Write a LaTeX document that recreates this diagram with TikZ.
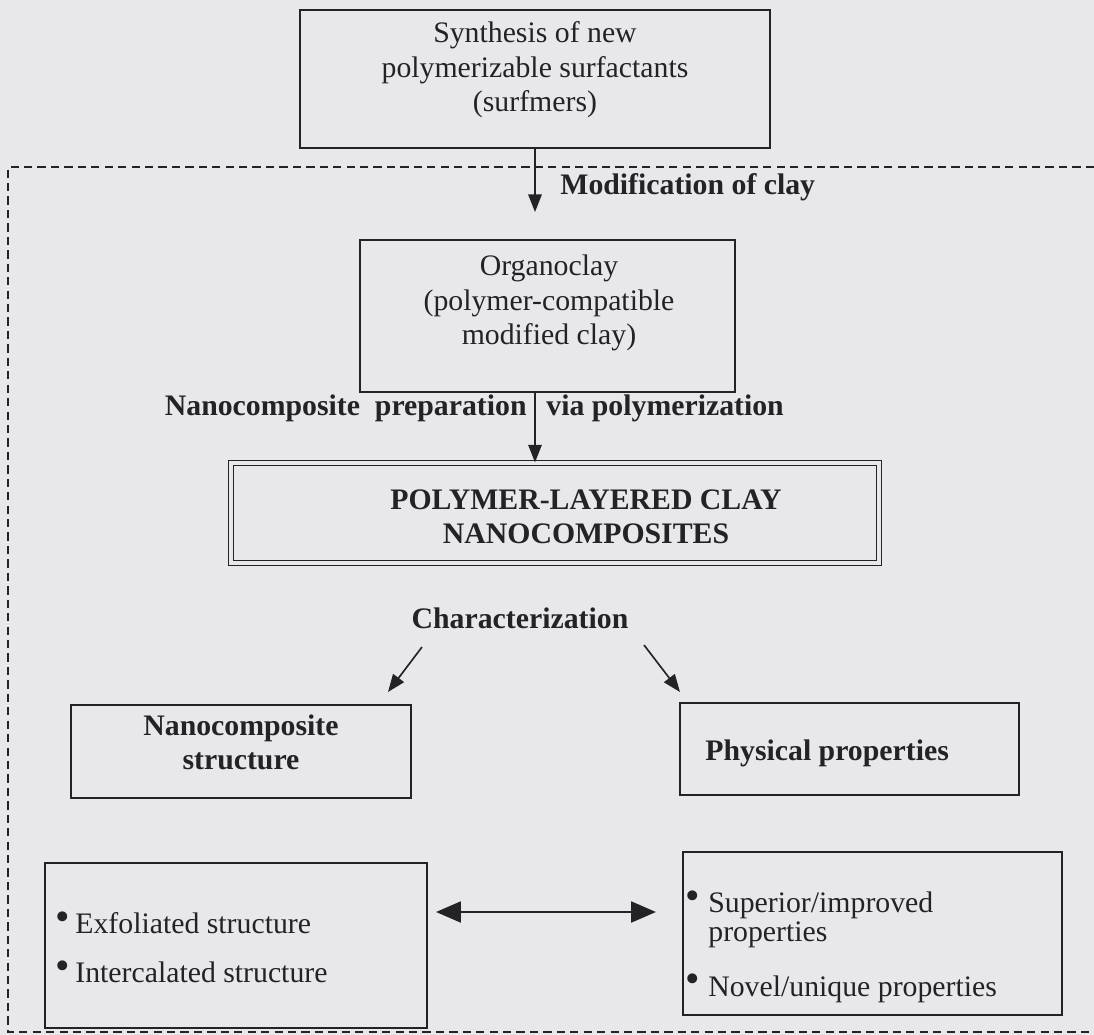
\documentclass[tikz,border=0pt]{standalone}
\usepackage{fontspec}
\setmainfont{Liberation Serif}
\usetikzlibrary{arrows.meta}
\definecolor{paper}{RGB}{232,232,234}
\definecolor{ink}{RGB}{35,35,38}
\tikzset{
  box/.style={draw=ink, line width=0.7pt, inner sep=0pt},
  txt/.style={text=ink, align=center, inner sep=0pt, font=\fontsize{14.4}{16.6}\selectfont},
  btxt/.style={txt, font=\fontsize{14.4}{16.6}\selectfont\bfseries},
  arr/.style={draw=ink, line width=0.8pt, -{Triangle[length=8.5pt,width=6.5pt]}},
  dblarr/.style={draw=ink, line width=1.4pt, {Triangle[length=12pt,width=10pt]}-{Triangle[length=12pt,width=10pt]}},
}
\newcommand{\itm}[1][0.34cm]{\makebox[#1][l]{\raisebox{0.25ex}{\fontsize{20}{20}\selectfont\symbol{"2022}}}}
\begin{document}
\begin{tikzpicture}[x=0.017cm,y=-0.017cm]
\fill[paper] (0,0) rectangle (1094,1035);
\useasboundingbox (0,0) rectangle (1094,1035);
% dashed frame round the clay part
\draw[ink, line width=0.5pt, dash pattern=on 4pt off 2.5pt] (1094,167) -- (8,167) -- (8,1032) -- (1094,1032);
\node[box, minimum width=7.99cm, minimum height=2.346cm] (top) at (535,79) {};
\node[txt] (toptxt) at (535,70) {Synthesis of new\\polymerizable surfactants\\(surfmers)};
\node[box, minimum width=6.375cm, minimum height=2.584cm] (org) at (547.5,316) {};
\node[txt] (orgtxt) at (549,303) {Organoclay\\(polymer-compatible\\modified clay)};
\node[box, double=paper, double distance=1.8pt, line width=0.6pt, minimum width=11.016cm, minimum height=1.7cm] (poly) at (555,513) {};
\node[btxt] (polytxt) at (586,517) {POLYMER-LAYERED CLAY\\NANOCOMPOSITES};
\node[box, minimum width=5.78cm, minimum height=1.581cm] (struct) at (241,751.5) {};
\node[btxt] (structtxt) at (241,742.5) {Nanocomposite\\structure};
\node[box, minimum width=5.763cm, minimum height=1.564cm] (phys) at (849.5,749) {};
\node[btxt, anchor=base west] (phystxt) at (705,760) {Physical properties};
\node[box, minimum width=6.494cm, minimum height=2.805cm] (lbox) at (236,945.5) {};
\node[txt, align=left, anchor=west] (ltxt) at (55,947.5) {\itm Exfoliated structure\\[7pt]\itm Intercalated structure};
\node[box, minimum width=6.443cm, minimum height=2.771cm] (rbox) at (872.5,933.5) {};
\node[txt, align=left, anchor=west] (rtxt) at (685,946.7) {\itm[0.39cm]Superior/improved\\[-3pt]\hspace*{0.39cm}properties\\[10pt]\itm[0.39cm]Novel/unique properties};
% labels
\node[btxt, anchor=base west] (modlbl) at (560,194) {Modification of clay};
\node[btxt, anchor=base east] (preplbl) at (527,415) {Nanocomposite\ \ preparation};
\node[btxt, anchor=base west] (vialbl) at (546,415) {via polymerization};
\node[btxt, anchor=base] (char) at (520,628) {Characterization};
\coordinate (a1end) at (535,212);
\coordinate (chl) at (422,647);
\coordinate (chlend) at (388,692);
\coordinate (chr) at (644,645);
\coordinate (chrend) at (680,692);
\coordinate (dl) at (436,912);
\coordinate (dr) at (656,912);
\draw[arr] (top.south) -- (a1end);
\draw[arr] (org.south -| a1end) -- (poly.north -| a1end);
\draw[arr] (chl) -- (chlend);
\draw[arr] (chr) -- (chrend);
\draw[dblarr] (dl) -- (dr);
\end{tikzpicture}
\end{document}
